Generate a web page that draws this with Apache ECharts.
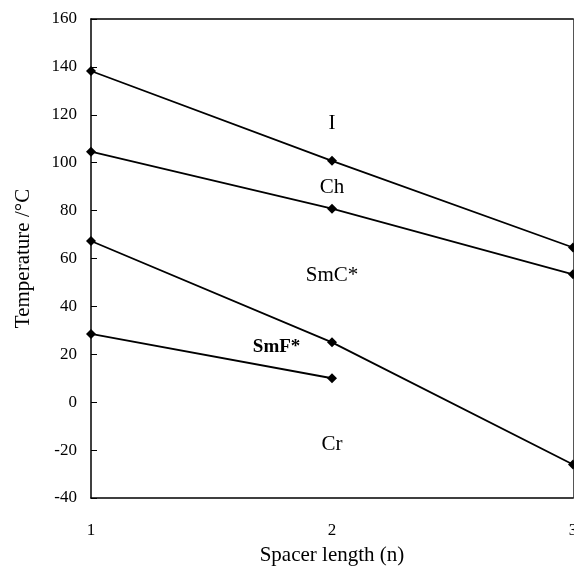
<!DOCTYPE html>
<html>
<head>
<meta charset="utf-8">
<script src="https://cdn.jsdelivr.net/npm/echarts@6/dist/echarts.min.js"></script>
<style>
html, body { margin: 0; padding: 0; background: #fff; }
#main { width: 574px; height: 568px; }
</style>
</head>
<body>
<div id="main"></div>
<script>
var spacer = [1, 2, 3];
var line_I_Ch = [138.3, 100.8, 64.6];
var line_Ch_SmC = [104.6, 80.8, 53.4];
var line_SmC_Cr = [67.3, 25, -26];
var line_SmF = [28.5, 10];
// region labels: [x, y, text]
var regionLabels = [
	[2, 116.5, 'I'],
	[2, 89.5, 'Ch'],
	[2, 53, 'SmC*'],
	[1.77, 23, 'SmF*'],
	[2, -17.5, 'Cr']
];
var yTicks = { min: -40, max: 160, step: 20 };

var serif = '"Liberation Serif", "DejaVu Serif", serif';

function pairs(xs, ys) {
	var out = [];
	for (var i = 0; i < ys.length; i++) out.push([xs[i], ys[i]]);
	return out;
}

function lineSeries(ys) {
	return {
		type: 'line',
		data: pairs(spacer, ys),
		symbol: 'diamond',
		symbolSize: 10,
		lineStyle: { color: '#000', width: 1.8 },
		itemStyle: { color: '#000' },
		clip: false,
		silent: true
	};
}

var chart = echarts.init(document.getElementById('main'));
var option = {
	animation: false,
	backgroundColor: '#fff',
	grid: { left: 91, right: 1, top: 19, bottom: 70, outerBoundsMode: 'none', containLabel: false },
	xAxis: [{
		type: 'value',
		min: 1, max: 3, interval: 1,
		name: 'Spacer length (n)',
		nameLocation: 'middle',
		nameGap: 47,
		nameTextStyle: { fontFamily: serif, fontSize: 21, color: '#000' },
		axisLine: { show: true, onZero: false, lineStyle: { color: '#000', width: 1.5 } },
		axisTick: { show: false },
		axisLabel: { margin: 24, fontFamily: serif, fontSize: 17, color: '#000' },
		splitLine: { show: false }
	}, {
		type: 'value',
		position: 'top',
		min: 1, max: 3,
		axisLine: { show: true, onZero: false, lineStyle: { color: '#000', width: 1.5 } },
		axisTick: { show: false },
		axisLabel: { show: false },
		splitLine: { show: false }
	}],
	yAxis: [{
		type: 'value',
		min: yTicks.min, max: yTicks.max, interval: yTicks.step,
		name: 'Temperature /°C',
		nameLocation: 'middle',
		nameGap: 57,
		nameTextStyle: { fontFamily: serif, fontSize: 21, color: '#000' },
		axisLine: { show: true, onZero: false, lineStyle: { color: '#000', width: 1.5 } },
		axisTick: { show: true, inside: true, length: 6, lineStyle: { color: '#000' } },
		axisLabel: { margin: 14, fontFamily: serif, fontSize: 17, color: '#000' },
		splitLine: { show: false }
	}, {
		type: 'value',
		position: 'right',
		min: yTicks.min, max: yTicks.max,
		axisLine: { show: true, onZero: false, lineStyle: { color: '#555', width: 1 } },
		axisTick: { show: false },
		axisLabel: { show: false },
		splitLine: { show: false }
	}],
	series: [
		lineSeries(line_I_Ch),
		lineSeries(line_Ch_SmC),
		lineSeries(line_SmC_Cr),
		lineSeries(line_SmF),
		{
			type: 'scatter',
			data: regionLabels.map(function (d) { return { value: [d[0], d[1]], name: d[2] }; }),
			symbolSize: 0,
			itemStyle: { color: '#000', opacity: 1 },
			silent: true,
			label: {
				show: true,
				position: 'inside',
				formatter: function (p) { return p.name; },
				fontFamily: serif,
				fontSize: 21,
				color: '#000',
				opacity: 1,
				textBorderWidth: 0,
				fontWeight: 'normal'
			},
			labelLayout: { hideOverlap: false }
		}
	]
};
option.series[4].data[3].label = { fontWeight: 'bold', fontSize: 19 };
chart.setOption(option);
</script>
</body>
</html>
